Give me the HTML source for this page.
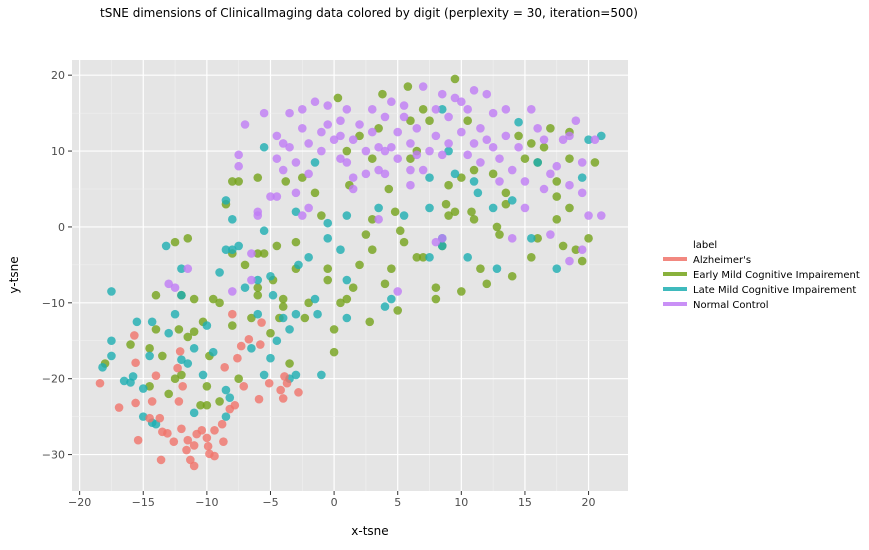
<!DOCTYPE html>
<html><head><meta charset="utf-8"><style>
body{margin:0;background:#fff;font-family:"Liberation Sans","DejaVu Sans",sans-serif}
svg text{font-family:"DejaVu Sans","Liberation Sans",sans-serif}
</style></head><body>
<svg id="chart" width="869" height="545" xmlns="http://www.w3.org/2000/svg">
<text x="100" y="17" font-size="12" fill="#000">tSNE dimensions of ClinicalImaging data colored by digit (perplexity = 30, iteration=500)</text>
<rect x="72" y="60" width="556" height="431" fill="#e5e5e5"/>
<g id="grid"></g><g id="pts"></g><g id="axes"></g>
<text x="370" y="535" font-size="12" text-anchor="middle" fill="#000">x-tsne</text>
<text transform="translate(18,275) rotate(-90)" font-size="12" text-anchor="middle" fill="#000">y-tsne</text>
<g id="legend">
<text x="693" y="248" font-size="10">label</text>
</g>
</svg>
<script>
const xTicks=[-20,-15,-10,-5,0,5,10,15,20];
const yTicks=[20,10,0,-10,-20,-30];
const labels=["Alzheimer's","Early Mild Cognitive Impairement","Late Mild Cognitive Impairement","Normal Control"];
const colors=["#F0736A","#74A31A","#1DAEB1","#BF7CF5"];
const alz=[[-18.4,-20.6],[-16.9,-23.8],[-15.7,-14.3],[-15.6,-17.9],[-15.6,-23.2],[-15.4,-28.1],[-14.5,-25.2],[-14.3,-23],[-14,-19.6],[-13.7,-25.2],[-13.5,-27],[-13.6,-30.7],[-13.1,-27.2],[-12.6,-28.3],[-12.3,-18.6],[-12.2,-23],[-12,-26.6],[-12.1,-16.4],[-11.9,-21],[-11.6,-29.4],[-11.5,-28.1],[-11.3,-30.7],[-11,-31.5],[-11,-28.8],[-10.8,-27.3],[-10.4,-26.8],[-10,-27.8],[-9.9,-28.9],[-9.8,-29.9],[-9.4,-26.8],[-9.4,-30.2],[-8.8,-26],[-8.7,-28.3],[-8.6,-18.5],[-8.2,-24],[-8,-11.5],[-7.8,-23.5],[-7.6,-17.3],[-7.3,-15.7],[-7.1,-21],[-6.7,-14.8],[-5.9,-22.7],[-5.8,-15.5],[-5.7,-12.6],[-5.1,-20.6],[-4.2,-21.5],[-4,-22.6],[-3.9,-19.7],[-3.7,-20.6],[-2.8,-21.8]];
const early=[[-18,-18],[-16,-15.5],[-14.5,-16],[-14,-13.5],[-14,-9],[-13.5,-17],[-13,-22],[-12.5,-2],[-12.5,-20],[-12.2,-13.5],[-12,-9],[-11.5,-1.5],[-11.5,-14.5],[-11,-9.5],[-11,-13.8],[-10.5,-23.5],[-10.3,-12.5],[-10,-21],[-9.8,-17],[-9.5,-9.5],[-9,-10],[-9,-23],[-8.5,3],[-8,6],[-8,-3.5],[-8,-13],[-7.5,-20],[-7.5,6],[-7,-5],[-6.5,-12],[-6,6.5],[-6,-3.5],[-6,-8],[-5.5,-3.5],[-5,-14],[-4.8,-7],[-4.5,-2.5],[-4.3,-12],[-4,-10.5],[-3.8,6],[-3.5,-18],[-3,-5.5],[-3,-2],[-2.5,6.5],[-2.3,-12],[-2,-10],[-1.5,4.5],[-1,1.5],[-0.5,-5.5],[-0.5,-7],[0,-13.5],[0,-16.5],[0.3,17],[0.5,-10],[1,-9.5],[1,10],[1.2,5.5],[1.5,-8],[2,-5],[2,12],[2.5,-1],[2.8,-12.5],[3,-3],[3,9],[3.5,13],[3.8,17.5],[4,-7.5],[4.3,5],[4.5,-5.5],[4.8,2],[5,-11],[5.2,-0.5],[5.5,-2],[5.8,18.5],[6,14],[6.5,10],[6.5,-4],[7,-4],[7,15.5],[7.5,14],[8,-9.5],[8,-8],[8.5,-2.5],[8.8,3],[9,5.5],[9,1.5],[9.5,19.5],[10,-8.5],[10,6.5],[10.5,14],[10.8,2],[11,1],[11.5,-5.5],[12,-7.5],[12.5,7],[12.8,0],[13,-1],[13.5,4.5],[13.5,3],[14,-6.5],[14.5,12],[15,9],[15.5,-4],[15.5,11],[16,8.5],[16,-1.5],[16.5,10.5],[17,13],[17.5,6],[17.5,4],[17.5,1],[18,-2.5],[18.5,12.5],[18.5,9],[18.5,2.5],[19,-3],[19.5,-4.5],[20,-1.5],[20.5,8.5],[-4,-9.5],[-6,-9],[-14.5,-21],[-12,-19.5],[6,9],[3,1],[-10,-23.5],[11,7.5],[9.5,2]];
const late=[[-17.5,-8.5],[-18.2,-18.5],[-17.5,-15],[-17.5,-17],[-16.5,-20.3],[-16,-20.5],[-15.8,-19.7],[-15.5,-12.5],[-15,-21.3],[-15,-25],[-14.5,-17],[-14.3,-12.5],[-14.3,-25.8],[-13.2,-2.5],[-13,-14],[-12.5,-11.5],[-12,-9],[-12,-5.5],[-12,-17.5],[-11.5,-18],[-11,-16],[-11,-24.5],[-10.3,-19.5],[-10,-13],[-9.5,-16.5],[-9,-6],[-8.5,-3],[-8.5,-21.5],[-8.5,-25],[-8.2,-22.5],[-8,-3],[-8,1],[-7.5,-2.5],[-7,-8],[-6.5,-16],[-6,-7],[-6,-11.5],[-5.5,-19.5],[-5,-6.5],[-5,-17.3],[-4.8,-9],[-4.5,-15],[-4,-12],[-3.5,-13.5],[-3.5,-20],[-3,-19.5],[-3,-11.5],[-2.8,-5],[-2,-4],[-1.5,-9.5],[-1.3,-11.5],[-1,-19.5],[-0.5,-1.5],[-0.5,0.5],[0.5,-3],[1,-7],[1,-12],[-5.5,10.5],[-5.5,-0.5],[-8.5,3.5],[-3,2],[-1.5,8.5],[1,1.5],[3.5,2.5],[4,-10.5],[4.5,-9.5],[5.5,1.5],[7.5,2.5],[7.5,6.5],[7.5,-4],[8.5,-2.5],[8.5,-1.5],[8.5,15.5],[9,10],[9.5,7],[10.5,-4],[11,6],[11.3,4.5],[12.5,2.5],[12.8,-5.5],[14,3.5],[14.5,13.8],[15.5,-1.5],[16,8.5],[17.5,-5.5],[19.5,6.5],[20,11.5],[21,12],[-14,-26]];
const normal=[[-13,-7.5],[-11.5,-5.5],[-7.5,9.5],[-8,-8.5],[-7,13.5],[-7.5,8],[-6,2],[-6.5,-3.5],[-6,1.5],[-5.5,15],[-4.5,12],[-4.5,4],[-4.5,9],[-4,11],[-4,7.5],[-3.5,15],[-3.5,10.5],[-3,4.5],[-3,8.5],[-2.5,15.5],[-2.5,13],[-2.5,1.5],[-2,2.5],[-2,11],[-1.5,16.5],[-1,12.5],[-1,10],[-0.5,16],[-0.5,13.5],[0,11.5],[0.5,9],[0.5,12],[0.5,14],[1,8.5],[1,15.5],[1.5,11.5],[1.5,6.5],[2,13.5],[2.5,10],[3,15.5],[3,12.5],[3.5,10.5],[3.5,7.5],[4,7],[4,14.5],[4.5,16.5],[4.5,10.5],[5,12.5],[5,9],[5.5,14.5],[5.5,16],[6,11],[6,5.5],[6.5,9.5],[6.5,13],[7,18.5],[7,7.5],[7.5,10],[8,12],[8,15.5],[8.5,9.5],[8.5,17.5],[9,14.5],[9,11],[9.5,17],[10,16.5],[10,12.5],[10.5,15.5],[10.5,9.5],[11,18],[11,11],[11.5,13],[11.5,8.5],[12,17.5],[12,11.5],[12.5,15],[12.5,10.5],[13,9],[13,6],[13.5,15.5],[13.5,12],[14,7.5],[14,-1.5],[14.5,10.5],[15,6],[15,2.5],[15.5,15.5],[16,13],[16.5,11.5],[16.5,5],[17,7],[17,-1],[17.5,8],[18,11.5],[18.5,12],[18.5,5.5],[19,14],[19.5,8.5],[19.5,4.5],[20,1.5],[19.5,-3],[18.5,-4.5],[21,1.5],[20.5,11.5],[3.5,1],[5,-8.5],[8.5,-1.5],[8,-2],[-5,4],[-2,7],[4,10],[6,7.5],[-6.5,-7],[-12.5,-8],[1.5,5],[2.5,7]];

const NS="http://www.w3.org/2000/svg";
const X0=72,X1=628,Y0=60,Y1=491;
const xMin=-20.6,xMax=23.1,yMin=-34.8,yMax=22.0;
const sx=v=>X0+(v-xMin)/(xMax-xMin)*(X1-X0);
const sy=v=>Y1-(v-yMin)/(yMax-yMin)*(Y1-Y0);
function mk(tag,attrs,parent){const e=document.createElementNS(NS,tag);for(const k in attrs)e.setAttribute(k,attrs[k]);parent.appendChild(e);return e;}
const grid=document.getElementById('grid'),axes=document.getElementById('axes'),pts=document.getElementById('pts');
xTicks.forEach((t,i)=>{
  if(i<xTicks.length-1){const m=mk('line',{x1:sx(t+2.5),x2:sx(t+2.5),y1:Y0,y2:Y1,stroke:'#f2f2f2','stroke-width':0.6},grid);
  
  }
  const g=mk('line',{x1:sx(t),x2:sx(t),y1:Y0,y2:Y1,stroke:'#fff','stroke-width':1.2},grid);
  
  
  const tk=mk('line',{x1:sx(t),x2:sx(t),y1:Y1,y2:Y1+4,stroke:'#333','stroke-width':1},axes);
  
  
  const tx=mk('text',{x:sx(t),y:Y1+15,'font-size':11,'text-anchor':'middle',fill:'#4d4d4d'},axes);
  tx.textContent=t<0?'\u2212'+Math.abs(t):String(t);
  
  
});
yTicks.forEach((t,i)=>{
  if(i>0){const m=mk('line',{x1:X0,x2:X1,y1:sy(t+5),y2:sy(t+5),stroke:'#f2f2f2','stroke-width':0.6},grid);
  
  }
  const g=mk('line',{x1:X0,x2:X1,y1:sy(t),y2:sy(t),stroke:'#fff','stroke-width':1.2},grid);
  
  
  const tk=mk('line',{x1:X0-4,x2:X0,y1:sy(t),y2:sy(t),stroke:'#333','stroke-width':1},axes);
  
  
  const tx=mk('text',{x:X0-7,y:sy(t)+4,'font-size':11,'text-anchor':'end',fill:'#4d4d4d'},axes);
  tx.textContent=t<0?'\u2212'+Math.abs(t):String(t);
  
  
});
const series=[early,late,normal,alz],sc=[1,2,3,0];
series.forEach((s,si)=>{s.forEach(p=>{
  const c=mk('circle',{cx:sx(p[0]),cy:sy(p[1]),r:4.3,fill:colors[sc[si]],'fill-opacity':0.8},pts);
  
  
});});
const leg=document.getElementById('legend');
labels.forEach((l,i)=>{
  const y=259+i*15;
  const ln=mk('line',{x1:663,x2:687,y1:y,y2:y,stroke:colors[i],'stroke-width':4,'stroke-opacity':0.85},leg);
  
  
  const t=mk('text',{x:693,y:y+4,'font-size':10,fill:'#000'},leg);
  t.textContent=l;
  
  
});
</script>
</body></html>
